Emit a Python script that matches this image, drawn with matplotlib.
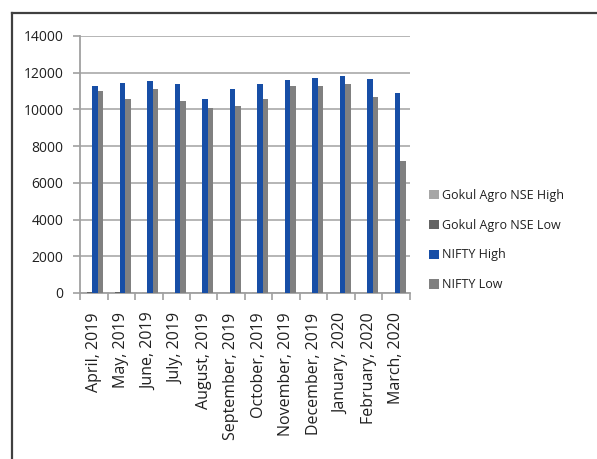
import numpy as np
import matplotlib.pyplot as plt
from matplotlib.lines import Line2D

plt.rcParams['font.family'] = ['Open Sans', 'DejaVu Sans']

months = ['April, 2019', 'May, 2019', 'June, 2019', 'July, 2019', 'August, 2019',
          'September, 2019', 'October, 2019', 'November, 2019', 'December, 2019',
          'January, 2020', 'February, 2020', 'March, 2020']
gokul_high = [38, 35, 33, 31, 27, 26, 28, 27, 26, 25, 24, 20]
gokul_low = [30, 28, 27, 25, 22, 21, 23, 22, 21, 20, 19, 12]
nifty_high = [11275, 11440, 11550, 11385, 10565, 11110, 11385, 11605, 11710, 11820, 11660, 10890]
nifty_low = [11000, 10565, 11110, 10455, 10075, 10180, 10565, 11275, 11275, 11385, 10675, 7180]

series = [
    ('Gokul Agro NSE High', gokul_high, '#a6a6a6'),
    ('Gokul Agro NSE Low', gokul_low, '#636363'),
    ('NIFTY High', nifty_high, '#174ea6'),
    ('NIFTY Low', nifty_low, '#808080'),
]

fig = plt.figure(figsize=(5.97, 4.59), dpi=100)
ax = fig.add_axes([80 / 597, 1 - 293 / 459, 330 / 597, 257 / 459])

x = np.arange(len(months))
w = 0.195
offsets = [-0.341, -0.146, 0.049, 0.244]
for (name, vals, col), off in zip(series, offsets):
    ax.bar(x + off, vals, w, color=col, label=name, zorder=3)

ax.set_xlim(-0.5, len(months) - 0.5)
ax.set_ylim(0, 14000)
ax.set_yticks(np.arange(0, 14001, 2000))
ax.yaxis.grid(True, color='#b0b0b0', lw=1.3, zorder=0)

ax.set_xticks(np.arange(-0.5, len(months)), labels=[])
ax.set_xticks(x, labels=months, minor=True, rotation=90, va='top', ha='center')
ax.tick_params(axis='x', which='major', length=5, width=1.2, color='#a0a0a0')
ax.tick_params(axis='x', which='minor', length=0, pad=14, labelsize=11.5, labelcolor='#202020')
ax.tick_params(axis='y', length=5, width=1.2, color='#a0a0a0', labelsize=10, labelcolor='#202020', pad=7)

for s in ['top', 'right']:
    ax.spines[s].set_visible(False)
for s in ['left', 'bottom']:
    ax.spines[s].set_color('#a0a0a0')
    ax.spines[s].set_linewidth(1.3)

fig.legend(loc='center left', bbox_to_anchor=(418 / 597, 1 - 240 / 459), frameon=False,
           fontsize=9, handlelength=0.75, handleheight=0.75, handletextpad=0.3,
           labelspacing=1.35, labelcolor='#202020')

fig.add_artist(Line2D([11.5 / 597, 11.5 / 597], [0, 1 - 12.5 / 459], color='#404040', lw=1.6))
fig.add_artist(Line2D([11.5 / 597, 1], [1 - 12.5 / 459, 1 - 12.5 / 459], color='#404040', lw=1.6))

fig.savefig('out.png', dpi=100)
